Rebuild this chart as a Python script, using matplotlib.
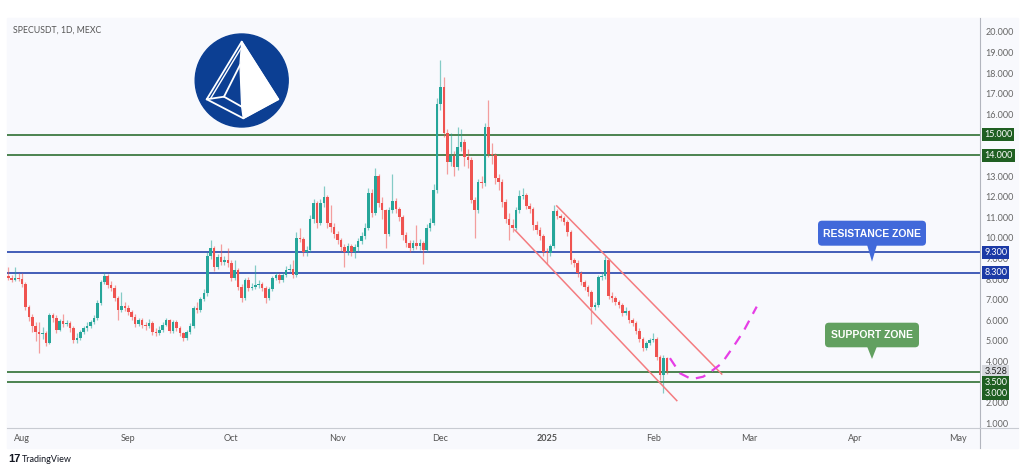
import numpy as np
import matplotlib
matplotlib.use("Agg")
import matplotlib.pyplot as plt
import pandas as pd
from matplotlib.patches import Rectangle, Circle, Polygon, FancyBboxPatch
from matplotlib.transforms import blended_transform_factory

plt.rcParams['font.family'] = ['Lato', 'DejaVu Sans']

# ---- data (daily candles from 2024-07-28) ----
start_date = "2024-07-28"
first_open = 8.15
close = [8.05, 7.95, 8.05, 8.0, 7.75, 6.65, 6.15, 5.7, 5.45, 5.35,
         5.4, 4.9, 6.25, 6.1, 5.55, 5.95, 5.8, 5.85, 5.6, 5.05,
         5.15, 5.45, 5.6, 5.7, 5.9, 6.1, 6.85, 7.85, 8.15, 7.7,
         7.55, 7.1, 6.5, 6.7, 6.6, 6.4, 6.15, 5.8, 6.0, 5.75,
         5.7, 5.85, 5.45, 5.4, 5.55, 5.75, 6.0, 5.5, 5.9, 5.62,
         5.38, 5.12, 5.45, 5.7, 6.6, 6.5, 7.05, 7.3, 9.1, 9.5,
         8.6, 9.08, 8.85, 8.9, 8.8, 8.05, 8.45, 7.6, 7.1, 7.95,
         7.55, 7.6, 7.7, 7.75, 7.55, 7.1, 7.5, 8.05, 8.2, 7.95,
         8.2, 8.45, 8.5, 8.2, 10.0, 9.95, 9.3, 9.4, 10.9, 11.7,
         10.7, 11.7, 12.0, 10.7, 10.55, 10.2, 9.9, 9.55, 9.3, 9.6,
         9.3, 9.55, 9.85, 10.1, 10.5, 12.2, 11.2, 13.0, 11.7, 11.35,
         10.2, 11.35, 11.8, 11.4, 11.0, 10.15, 9.75, 9.5, 9.75, 9.6,
         9.75, 9.4, 10.5, 10.7, 12.3, 16.5, 17.3, 15.1, 13.7, 13.95,
         13.45, 14.4, 14.65, 13.9, 13.8, 11.85, 11.35, 12.7, 12.65, 15.4,
         14.05, 14.0, 12.9, 12.7, 11.75, 10.9, 10.6, 10.5, 11.35, 12.05,
         12.1, 11.55, 11.4, 10.6, 10.4, 10.1, 9.3, 9.25, 9.6, 11.3,
         11.05, 10.95, 10.75, 10.3, 8.9, 8.8, 8.3, 7.85, 7.6, 7.35,
         6.65, 6.75, 8.1, 8.15, 8.9, 7.2, 7.1, 6.9, 6.75, 6.35,
         6.45, 6.0, 5.85, 5.5, 5.1, 4.65, 4.9, 5.05, 5.1, 4.2,
         3.35, 4.15, 3.528]
high = [8.6, 8.2, 8.6, 8.3, 8.3, 7.85, 6.75, 6.3, 5.9, 5.9,
        5.65, 5.5, 6.35, 6.35, 6.25, 6.05, 6.3, 6.0, 5.95, 5.7,
        5.4, 5.55, 5.7, 5.9, 6.0, 6.25, 7.0, 7.95, 8.35, 8.25,
        7.9, 7.7, 7.2, 7.35, 6.9, 6.75, 6.5, 6.3, 6.1, 6.1,
        5.9, 6.05, 5.95, 5.6, 5.7, 5.9, 6.1, 6.05, 6.0, 6.0,
        5.7, 5.45, 5.55, 5.85, 6.7, 6.9, 7.15, 7.5, 9.3, 9.9,
        9.6, 9.2, 9.7, 9.1, 9.5, 8.9, 8.9, 8.55, 7.75, 8.05,
        8.1, 7.8, 8.7, 7.95, 7.85, 7.65, 7.6, 8.15, 8.35, 8.3,
        8.35, 8.65, 8.75, 8.9, 10.3, 10.5, 10.05, 9.6, 11.1, 11.9,
        11.8, 11.9, 12.5, 12.1, 11.6, 10.7, 10.35, 10.0, 9.7, 9.75,
        9.7, 9.7, 10.0, 10.3, 10.7, 12.4, 12.35, 13.4, 13.1, 12.0,
        11.4, 11.5, 13.1, 11.95, 11.5, 11.1, 10.3, 9.9, 9.9, 10.6,
        9.95, 9.85, 10.65, 10.95, 12.6, 16.8, 18.65, 17.8, 15.3, 15.1,
        14.2, 15.4, 15.3, 14.8, 14.3, 13.9, 12.0, 12.85, 13.0, 15.55,
        16.7, 14.6, 14.1, 13.1, 12.85, 11.9, 11.2, 10.9, 11.5, 12.3,
        12.4, 12.2, 11.7, 11.5, 10.8, 10.55, 10.2, 9.5, 9.7, 11.6,
        11.4, 11.15, 11.05, 10.85, 10.4, 9.0, 8.9, 8.4, 7.95, 7.7,
        7.45, 6.9, 8.2, 8.35, 9.1, 9.0, 7.35, 7.2, 7.0, 6.85,
        6.65, 6.5, 6.1, 5.95, 5.6, 5.2, 5.0, 5.15, 5.4, 5.2,
        4.3, 4.3, 4.2]
low = [7.95, 7.85, 7.9, 7.9, 7.6, 6.5, 5.95, 5.45, 5.0, 4.4,
       5.1, 4.75, 4.85, 5.9, 5.4, 5.5, 5.65, 5.7, 5.45, 4.9,
       4.9, 5.05, 5.35, 5.5, 5.6, 5.8, 6.0, 6.75, 7.75, 7.55,
       7.4, 6.95, 6.0, 6.4, 6.45, 6.25, 6.0, 5.65, 5.7, 5.6,
       5.55, 5.6, 5.3, 5.25, 5.3, 5.45, 5.7, 5.4, 5.4, 5.5,
       5.25, 5.0, 5.05, 5.35, 5.6, 6.35, 6.4, 6.95, 7.2, 8.95,
       8.4, 8.5, 8.7, 8.7, 8.6, 7.9, 7.95, 7.45, 6.9, 7.0,
       7.4, 7.45, 7.5, 7.55, 7.4, 6.85, 7.0, 7.4, 7.95, 7.8,
       7.85, 8.1, 8.35, 8.05, 8.1, 9.8, 9.1, 9.1, 9.3, 10.7,
       10.5, 10.6, 11.5, 10.5, 10.3, 10.0, 9.7, 9.35, 8.6, 9.15,
       9.1, 9.0, 9.3, 9.7, 9.95, 10.4, 11.0, 11.1, 11.5, 10.9,
       9.5, 10.1, 11.2, 11.2, 10.8, 9.9, 9.55, 9.3, 9.4, 9.45,
       9.4, 8.75, 9.3, 10.35, 10.6, 12.2, 16.2, 14.9, 13.1, 13.5,
       13.0, 13.3, 14.2, 13.5, 13.4, 11.7, 10.0, 11.2, 12.4, 12.5,
       13.9, 13.6, 12.6, 12.3, 11.5, 10.7, 9.9, 10.3, 10.4, 11.2,
       11.9, 11.4, 11.2, 10.4, 10.2, 9.9, 9.1, 8.75, 9.1, 9.5,
       10.9, 10.8, 10.6, 10.1, 8.75, 8.6, 8.1, 7.7, 7.45, 7.2,
       5.8, 6.5, 6.65, 7.95, 8.0, 7.05, 6.9, 6.75, 6.6, 6.2,
       6.25, 5.85, 5.7, 5.35, 4.95, 4.5, 4.55, 4.8, 4.95, 4.05,
       3.1, 2.45, 3.4]

green_levels = [15.0, 14.0, 3.5, 3.0]
blue_levels = [9.3, 8.3]
last_price = 3.528

# descending channel (day offset from start, price)
upper_days = [159.9, 208.0]
upper_prices = [11.55, 3.39]
lower_days = [147.7, 194.9]
lower_prices = [10.38, 2.10]

# projected path (day offset, price)
proj_days = [192.9, 195.8, 199.2, 202.6, 205.5, 208.0, 211.4, 214.3, 218.2]
proj_prices = [4.16, 3.43, 3.14, 3.26, 3.59, 3.91, 4.72, 5.45, 6.66]

month_starts = ["2024-08-01", "2024-09-01", "2024-10-01", "2024-11-01", "2024-12-01",
                "2025-01-01", "2025-02-01", "2025-03-01", "2025-04-01", "2025-05-01"]

# ---- figure ----
W, H = 1024, 472
fig = plt.figure(figsize=(W / 100, H / 100), dpi=100, facecolor='white')
panel = '#f8f9fd'
fig.patches.append(Rectangle((7 / W, 1 - 448 / H), (1018 - 7) / W, (448 - 18) / H,
                             transform=fig.transFigure, color=panel, zorder=-5))

ax = fig.add_axes([7 / W, 1 - 428 / H, 973 / W, 410 / H])
ax.set_facecolor(panel)

close = np.array(close)
high = np.array(high)
low = np.array(low)
opens = np.concatenate([[first_open], close[:-1]])
days = np.arange(len(close))
up = close >= opens
col = np.where(up, '#26a69a', '#ef5350')

ax.vlines(days, low, high, colors=col, lw=0.9, alpha=0.55, zorder=3)
body_lo = np.minimum(opens, close)
body_h = np.maximum(np.abs(close - opens), 0.04)
ax.bar(days, body_h, bottom=body_lo, width=0.75, color=col, zorder=4, linewidth=0)

for lv in green_levels:
    ax.axhline(lv, color='#2f6f33', lw=1.2, zorder=2)
for lv in blue_levels:
    ax.axhline(lv, color='#3451b2', lw=1.3, zorder=2)

ax.plot(upper_days, upper_prices, color='#f47c80', lw=1.1, zorder=5)
ax.plot(lower_days, lower_prices, color='#f47c80', lw=1.1, zorder=5)
ax.plot(proj_days, proj_prices, color='#e63ee6', lw=1.6, ls=(0, (4.5, 3.5)), zorder=5)

ax.set_xlim(-0.38, 283.3)
ax.set_ylim(0.77, 20.67)

# x ticks
t0 = pd.Timestamp(start_date)
tick_pos = [(pd.Timestamp(m) - t0).days for m in month_starts]
tick_lab = [pd.Timestamp(m).strftime('%Y') if pd.Timestamp(m).month == 1
            else pd.Timestamp(m).strftime('%b') for m in month_starts]
ax.set_xticks(tick_pos)
ax.set_xticklabels(tick_lab)
for t in ax.get_xticklabels():
    if t.get_text() == '2025':
        t.set_fontweight('bold')
        t.set_color('#333333')
ax.tick_params(axis='x', length=0, pad=4, labelsize=6.5, labelcolor='#555555')

# y ticks
ax.yaxis.tick_right()
ax.set_yticks(range(1, 21))
ax.set_yticklabels(['%.3f' % v for v in range(1, 21)])
ax.tick_params(axis='y', length=0, pad=4, labelsize=6.5, labelcolor='#666666')

for s in ['top', 'left']:
    ax.spines[s].set_visible(False)
ax.spines['right'].set_color('#b2b5be')
ax.spines['bottom'].set_color('#c8cbd2')
ax.spines['right'].set_linewidth(0.8)
ax.spines['bottom'].set_linewidth(0.8)

# price tags on the right axis
tr = blended_transform_factory(ax.transAxes, ax.transData)


def tag(price, text, fc, tc='white', dy=0):
    ax.annotate(text, xy=(1.0, price), xycoords=tr, xytext=(3, dy), textcoords='offset points',
                ha='left', va='center', fontsize=6.5, color=tc, zorder=10, annotation_clip=False,
                bbox=dict(boxstyle='square,pad=0.22', fc=fc, ec='none'))


tag(15.0, '15.000', '#1f5f22')
tag(14.0, '14.000', '#1f5f22')
tag(9.3, '9.300', '#1c3aa6')
tag(8.3, '8.300', '#1c3aa6')
tag(last_price, '3.528', '#d6d8de', tc='#222222')
tag(3.5, '3.500', '#1f5f22', dy=-8)
tag(3.0, '3.000', '#1f5f22', dy=-8.5)

# ---- overlay in pixel coordinates ----
ov = fig.add_axes([0, 0, 1, 1])
ov.set_xlim(0, W)
ov.set_ylim(H, 0)
ov.axis('off')

ov.plot([980, 980], [428, 448], color='#b2b5be', lw=0.8)
ov.plot([980, 1018], [428, 428], color='#c8cbd2', lw=0.8)

ov.text(13, 30, 'SPECUSDT, 1D, MEXC', fontsize=6.3, color='#555555', va='center')

# logo
ov.add_patch(Circle((241.7, 80.5), 46.5, color='#0c3f93'))
apex, lb, rb, fr = (241.7, 41.7), (206.7, 99.3), (278.3, 99.3), (243.3, 118.3)
ia, il, ifr = (240, 65), (224, 96.7), (241.7, 106.7)
ov.add_patch(Polygon([apex, rb, fr, ifr, ia], closed=True, color='white'))
for seg in [(apex, lb), (lb, fr), (fr, rb), (rb, apex), (ia, il), (il, ifr), (lb, il)]:
    ov.plot([seg[0][0], seg[1][0]], [seg[0][1], seg[1][1]], color='white', lw=1.3,
            solid_capstyle='round')
ov.plot([apex[0] - 1, lb[0] + 4], [apex[1] + 7, lb[1] - 1], color='white', lw=1.0)


# callouts
def callout(cx, cy, w, h, tip, text, fc):
    ov.add_patch(FancyBboxPatch((cx - w / 2, cy - h / 2), w, h,
                                boxstyle='round,pad=0,rounding_size=4', fc=fc, ec='none'))
    ov.add_patch(Polygon([(cx - 5, cy + h / 2 - 1), (cx + 5, cy + h / 2 - 1), (cx, tip)],
                         closed=True, fc=fc, ec='none'))
    ov.text(cx, cy + 0.5, text, ha='center', va='center', fontsize=7.5, color='white',
            fontweight='bold', family=['Liberation Sans', 'DejaVu Sans'])


callout(872, 233.2, 108, 25, 261.7, 'RESISTANCE ZONE', '#4169da')
callout(872, 335, 94, 24.6, 359, 'SUPPORT ZONE', '#62a060')

ov.text(8, 459, '17', fontsize=8, fontweight='bold', color='#131722', va='center',
        family=['Liberation Sans', 'DejaVu Sans'])
ov.text(22, 459, 'TradingView', fontsize=6.5, color='#131722', va='center')

fig.savefig('out.png', dpi=100, facecolor='white')
